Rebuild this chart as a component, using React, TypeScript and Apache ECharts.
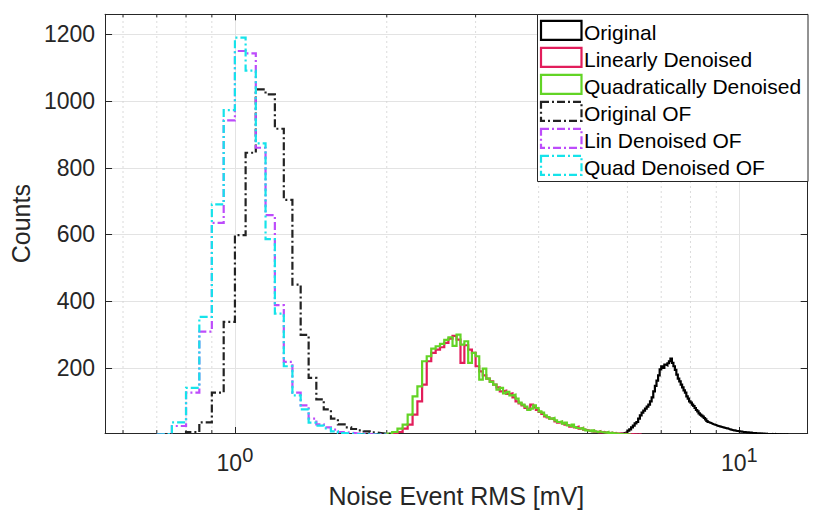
import React, { useEffect, useRef } from "react";
import * as echarts from "echarts";

// ---- data (bin width 0.05 mV, counts per bin) ----
const BIN = 0.05;

const ORIG_START = 5.7;
const ORIG_COUNTS = [
  1, 2, 3, 4, 6, 8, 12, 16, 22, 27, 34, 38, 48, 58, 66, 72, 78, 84, 90, 100,
  112, 130, 146, 162, 178, 196, 205, 200, 210, 208, 214, 220, 228, 215, 205, 194, 180, 168, 160, 150,
  142, 133, 126, 115, 108, 100, 96, 90, 86, 80, 74, 70, 64, 60, 57, 54, 50, 46, 41, 38,
  36, 35, 33, 31, 30, 29, 27, 26, 25, 24, 23, 22, 21, 20, 19, 19, 17, 16, 15, 14,
  13, 13, 12, 11, 11, 10, 10, 9, 9, 8, 8, 8, 7, 7, 7, 6, 6, 6, 5, 5,
  5, 5, 4, 4, 4, 4, 3, 4, 3, 3, 3, 2, 3, 2, 2, 2, 2, 1, 2, 1,
  1, 2, 1, 1, 1, 0, 1, 1, 0, 1, 0, 1, 0, 0, 1, 0,
];

const LIN_START = 2.0;
const LIN_COUNTS = [
  1, 4, 8, 18, 30, 60, 100, 150, 220, 245, 255, 262, 275, 288, 296, 285, 215, 268, 255, 245,
  205, 190, 178, 168, 160, 150, 142, 130, 132, 122, 124, 112, 100, 94, 88, 80, 76, 90, 82, 74,
  68, 62, 55, 52, 48, 46, 40, 36, 38, 34, 30, 28, 24, 26, 22, 24, 18, 20, 15, 14,
  12, 10, 12, 9, 8, 10, 7, 8, 6, 7, 5, 6, 4, 5, 3, 4, 3, 2, 3, 2,
  2, 1, 2, 1, 1, 0, 1, 0,
];

const QUAD_START = 2.0;
const QUAD_COUNTS = [
  3, 8, 18, 30, 60, 115, 145, 220, 235, 258, 265, 272, 284, 292, 266, 300, 270, 280, 215, 245,
  235, 165, 198, 168, 158, 150, 135, 140, 124, 128, 118, 120, 108, 96, 90, 84, 74, 78, 88, 80,
  70, 66, 58, 53, 48, 50, 43, 38, 40, 33, 36, 28, 26, 30, 23, 20, 18, 20, 16, 13,
  12, 10, 13, 10, 8, 10, 8, 7, 6, 8, 5, 6, 4, 4, 3, 2, 2, 1, 2, 1,
  1, 0,
];

const ORIG_OF_START = 0.8;
const ORIG_OF_COUNTS = [
  8, 37, 126, 338, 598, 845, 1035, 1020, 917, 704, 450, 299, 170, 106, 76, 48, 31, 22, 17, 13,
  10, 7, 5, 3, 2,
];

const LIN_OF_START = 0.7;
const LIN_OF_COUNTS = [
  2, 26, 126, 309, 635, 942, 1150, 1143, 860, 658, 388, 218, 126, 88, 48, 31, 22, 15, 8, 6,
  4, 3, 2, 1, 1, 0,
];

const QUAD_OF_START = 0.7;
const QUAD_OF_COUNTS = [
  2, 37, 140, 353, 690, 973, 1190, 1091, 873, 586, 363, 205, 118, 76, 36, 27, 19, 10, 5, 3,
  2, 1, 1, 0, 0, 0,
];

const SERIES_NAMES = [
  "Original",
  "Linearly Denoised",
  "Quadratically Denoised",
  "Original OF",
  "Lin Denoised OF",
  "Quad Denoised OF",
];

const MINOR_TICKS = [0.6, 0.7, 0.8, 0.9, 2, 3, 4, 5, 6, 7, 8, 9];

const X_MIN = 0.5528;
const X_MAX = 13.66;
const Y_MIN = 5;
const Y_MAX = 1260;

// ---- styles ----
const COLORS = ["#000000", "#e21d5b", "#62d425", "#222222", "#bd4cfb", "#16e3ea"];
const DASHDOT = [8, 3, 2, 3];
const DASHED = [false, false, false, true, true, true];
const AXIS_COLOR = "#262626";
const FONT = "'Liberation Sans', Arial, Helvetica, sans-serif";

function stairs(start: number, counts: number[]) {
  const pts: number[][] = [[start, 0]];
  counts.forEach((c, i) => {
    const a = +(start + i * BIN).toFixed(4);
    const b = +(start + (i + 1) * BIN).toFixed(4);
    pts.push([a, c], [b, c]);
  });
  pts.push([+(start + counts.length * BIN).toFixed(4), 0]);
  return pts;
}

export default function App() {
  const ref = useRef<HTMLDivElement>(null);

  useEffect(() => {
    if (!ref.current) return;
    const chart = echarts.init(ref.current, undefined, { renderer: "svg" });

    const hist = [
      stairs(ORIG_START, ORIG_COUNTS),
      stairs(LIN_START, LIN_COUNTS),
      stairs(QUAD_START, QUAD_COUNTS),
      stairs(ORIG_OF_START, ORIG_OF_COUNTS),
      stairs(LIN_OF_START, LIN_OF_COUNTS),
      stairs(QUAD_OF_START, QUAD_OF_COUNTS),
    ];

    const lineSeries = hist.map((d, i) => ({
      type: "line",
      name: SERIES_NAMES[i],
      data: d,
      showSymbol: false,
      symbol: "none",
      silent: true,
      clip: true,
      z: 3 + i,
      lineStyle: {
        color: COLORS[i],
        width: 2.2,
        type: DASHED[i] ? DASHDOT : "solid",
        join: "miter",
      },
      xAxisIndex: 0,
      yAxisIndex: 0,
    }));

    const rowY0 = 30.3;
    const rowDy = 27;
    const legendChildren: any[] = [
      {
        type: "rect",
        z: 100,
        shape: { x: 537.5, y: 14.5, width: 270.5, height: 167 },
        style: { fill: "#ffffff", stroke: AXIS_COLOR, lineWidth: 1 },
      },
    ];
    SERIES_NAMES.forEach((name, i) => {
      const cy = rowY0 + rowDy * i;
      legendChildren.push({
        type: "rect",
        z: 101,
        shape: { x: 541, y: cy - 9.5, width: 40.5, height: 19 },
        style: {
          fill: "none",
          stroke: COLORS[i],
          lineWidth: 2.2,
          lineDash: DASHED[i] ? DASHDOT : null,
        },
      });
      legendChildren.push({
        type: "text",
        z: 101,
        x: 584,
        y: cy + 2,
        style: {
          text: name,
          fill: "#000000",
          font: `21px ${FONT}`,
          verticalAlign: "middle",
          align: "left",
        },
      });
    });

    const option: any = {
      animation: false,
      backgroundColor: "#ffffff",
      textStyle: { fontFamily: FONT },
      grid: { left: 99, right: 23.3, top: 14.3, bottom: 79.7, containLabel: false },
      xAxis: [
        {
          type: "log",
          logBase: 10,
          min: X_MIN,
          max: X_MAX,
          position: "bottom",
          name: "Noise Event RMS [mV]",
          nameLocation: "middle",
          nameGap: 50,
          nameTextStyle: { fontSize: 25, color: AXIS_COLOR, fontFamily: FONT },
          axisLine: { show: true, lineStyle: { color: AXIS_COLOR, width: 1 } },
          axisTick: { show: true, inside: true, length: 6, lineStyle: { color: AXIS_COLOR } },
          axisLabel: {
            margin: 12,
            formatter: (v: number) => {
              const l = Math.log10(v);
              const e = Math.round(l);
              if (Math.abs(l - e) > 1e-6) return "";
              return `{b|10}{s|${e}}`;
            },
            rich: {
              b: { fontSize: 23, color: AXIS_COLOR, fontFamily: FONT, lineHeight: 36 },
              s: { fontSize: 20, color: AXIS_COLOR, fontFamily: FONT, lineHeight: 20, verticalAlign: "top" },
            },
          },
          splitLine: { show: true, lineStyle: { color: "#e3e3e3", width: 1 } },
        },
        {
          type: "log",
          logBase: 10,
          min: X_MIN,
          max: X_MAX,
          position: "top",
          axisLine: { show: true, lineStyle: { color: AXIS_COLOR, width: 1 } },
          axisTick: { show: true, inside: true, length: 6, lineStyle: { color: AXIS_COLOR } },
          axisLabel: { show: false },
          splitLine: { show: false },
        },
      ],
      yAxis: [
        {
          type: "value",
          min: Y_MIN,
          max: Y_MAX,
          splitNumber: 6,
          position: "left",
          name: "Counts",
          nameLocation: "middle",
          nameGap: 67,
          nameRotate: 90,
          nameTextStyle: { fontSize: 25, color: AXIS_COLOR, fontFamily: FONT },
          axisLine: { show: true, lineStyle: { color: AXIS_COLOR, width: 1 } },
          axisTick: { show: true, inside: true, length: 7, lineStyle: { color: AXIS_COLOR } },
          axisLabel: {
            margin: 10,
            fontSize: 23,
            color: AXIS_COLOR,
            fontFamily: FONT,
            formatter: (v: number) => (v > 0 && Math.abs(v % 200) < 1e-6 ? String(v) : ""),
          },
          splitLine: { show: true, lineStyle: { color: "#e3e3e3", width: 1 } },
        },
        {
          type: "value",
          min: Y_MIN,
          max: Y_MAX,
          splitNumber: 6,
          position: "right",
          axisLine: { show: true, lineStyle: { color: AXIS_COLOR, width: 1 } },
          axisTick: { show: true, inside: true, length: 7, lineStyle: { color: AXIS_COLOR } },
          axisLabel: { show: false },
          splitLine: { show: false },
        },
      ],
      series: [
        {
          type: "custom",
          name: "minor grid",
          silent: true,
          z: 1,
          clip: false,
          xAxisIndex: 0,
          yAxisIndex: 0,
          data: MINOR_TICKS.map((v) => [v, Y_MIN]),
          encode: { x: 0, y: 1 },
          renderItem: (params: any, api: any) => {
            const v = api.value(0);
            const b = api.coord([v, Y_MIN]);
            const t = api.coord([v, Y_MAX]);
            return {
              type: "group",
              children: [
                {
                  type: "line",
                  shape: { x1: b[0], y1: b[1], x2: t[0], y2: t[1] },
                  style: { stroke: "#d2d2d2", lineWidth: 0.8, lineDash: [2, 3] },
                },
                {
                  type: "line",
                  shape: { x1: b[0], y1: b[1], x2: b[0], y2: b[1] - 3 },
                  style: { stroke: AXIS_COLOR, lineWidth: 1 },
                },
                {
                  type: "line",
                  shape: { x1: t[0], y1: t[1], x2: t[0], y2: t[1] + 3 },
                  style: { stroke: AXIS_COLOR, lineWidth: 1 },
                },
              ],
            };
          },
        },
        ...lineSeries,
      ],
      graphic: [{ type: "group", z: 100, children: legendChildren }],
    };

    chart.setOption(option);
    return () => chart.dispose();
  }, []);

  return (
    <div
      ref={ref}
      style={{ position: "absolute", left: 0, top: 0, width: 831, height: 513, background: "#fff" }}
    />
  );
}
